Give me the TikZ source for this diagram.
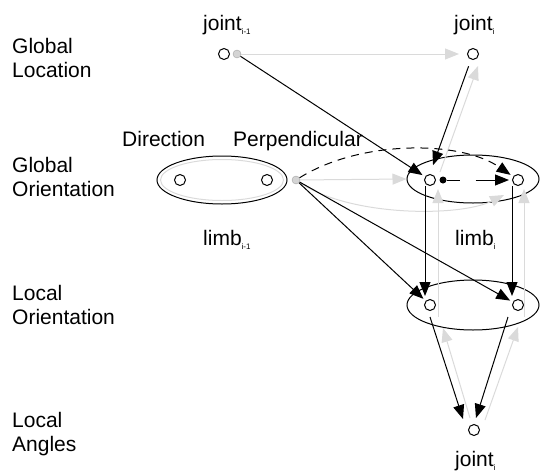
\documentclass[tikz,border=0pt]{standalone}
\usepackage{fontspec}
\setmainfont{Liberation Sans}
\usetikzlibrary{arrows.meta,shapes.geometric}
\definecolor{faint}{RGB}{218,218,218}
\definecolor{dotfill}{RGB}{212,212,212}
\definecolor{dotrim}{RGB}{165,165,165}
\newcommand\lowidx[1]{\raisebox{-4pt}{\fontsize{8}{8}\selectfont #1}}
\begin{document}
\begin{tikzpicture}[x=1pt,y=-1pt,
  port/.style={circle,draw,line width=1pt,fill=white,minimum size=11pt,inner sep=0pt},
  hub/.style={circle,draw=dotrim,fill=dotfill,minimum size=8pt,inner sep=0pt},
  knot/.style={circle,fill=black,minimum size=7pt,inner sep=0pt},
  group/.style={ellipse,draw,line width=1pt,inner sep=0pt},
  lab/.style={font=\fontsize{21}{24}\selectfont,inner sep=0pt,anchor=base west},
  rowlab/.style={lab,align=left},
  strong/.style={line width=1pt,-{Triangle[length=14pt,width=11pt]},shorten >=3pt},
  weak/.style={faint,line width=1pt,-{Triangle[length=14pt,width=11pt]}},
]
\useasboundingbox (0,0) rectangle (541,474);

% row captions (anchored at the baseline of the second line)
\node[rowlab] (rGL) at (12,77) {Global\\Location};
\node[rowlab] (rGO) at (12,196) {Global\\Orientation};
\node[rowlab] (rLO) at (12,324) {Local\\Orientation};
\node[rowlab] (rLA) at (12,451) {Local\\Angles};

% limb groups
\node[group,minimum width=130pt,minimum height=48pt] (L1) at (222,180) {};
\node[ellipse,draw=faint,line width=1pt,minimum width=123pt,minimum height=41pt] (L1in) at (222,180) {};
\node[group,minimum width=132pt,minimum height=48pt] (L2) at (473,179) {};
\node[group,minimum width=132pt,minimum height=50pt] (L3) at (473,305) {};

% variables
\node[port] (jA) at (224,54) {};
\node[hub]  (gA) at (237,54) {};
\node[port] (jB) at (473,54) {};
\node[port] (c1) at (180,180) {};
\node[port] (c2) at (267,180) {};
\node[hub]  (gB) at (296,180) {};
\node[port] (c3) at (430,180) {};
\node[port] (c4) at (518,180) {};
\node[port] (c5) at (430,305) {};
\node[port] (c6) at (518,305) {};
\node[port] (jC) at (474,430) {};
\node[knot] (bd) at (443,180) {};

% labels
\node[lab] (tA) at (203,30) {joint\lowidx{i-1}};
\node[lab] (tB) at (454,30) {joint\lowidx{i}};
\node[lab] (tC) at (455,466) {joint\lowidx{i}};
\node[lab] (tL1) at (203,245) {limb\lowidx{i-1}};
\node[lab] (tL2) at (455,245) {limb\lowidx{i}};
\node[lab] (tDir) at (122,146) {Direction};
\node[lab] (tPer) at (233,146) {Perpendicular};

% light dependencies
\draw[weak,shorten >=8pt] (gA) -- (jB);
\draw[weak] ([shift={(10pt,8pt)}]c3.center) -- ([shift={(5pt,-12pt)}]jB.center);
\draw[weak] (gB) -- (L2.west);
\draw[weak] (gB) .. controls (350,217) and (460,217) .. ([shift={(-14pt,-15pt)}]c4.center);
\draw[weak] ([xshift=8pt,yshift=-12pt]c5.center) -- ([xshift=8pt,yshift=-9pt]c3.center);
\draw[weak] ([xshift=6pt,yshift=-12pt]c6.center) -- ([xshift=6pt,yshift=-9pt]c4.center);
\draw[weak] ([shift={(-4pt,12pt)}]jC.center) -- ([shift={(13pt,-23pt)}]c5.center);
\draw[weak] ([shift={(11pt,10pt)}]jC.center) -- ([yshift=-22pt]c6.center);

% strong dependencies
\draw[strong] (gA) -- (c3);
\draw[strong,shorten <=7pt] (jB) -- ([xshift=2pt,yshift=12pt]c3.center);
\draw[strong,dash pattern=on 8pt off 6pt] (gB) .. controls (360,140) and (460,140) .. (c4);
\draw[strong,dash pattern=on 13pt off 16pt on 60pt] (bd) -- (c4);
\draw[strong] (gB) -- (c5);
\draw[strong] (gB) -- (c6);
\draw[strong] ([xshift=-5pt]c3.south) -- ([xshift=-5pt]c5.north);
\draw[strong] ([xshift=-6pt]c4.south) -- ([xshift=-6pt]c6.north);
\draw[strong,shorten >=0pt] ([yshift=-12pt]c5.center) -- ([shift={(-11pt,11pt)}]jC.center);
\draw[strong,shorten >=0pt] ([shift={(-10pt,-12pt)}]c6.center) -- ([shift={(2pt,12pt)}]jC.center);
\end{tikzpicture}
\end{document}
